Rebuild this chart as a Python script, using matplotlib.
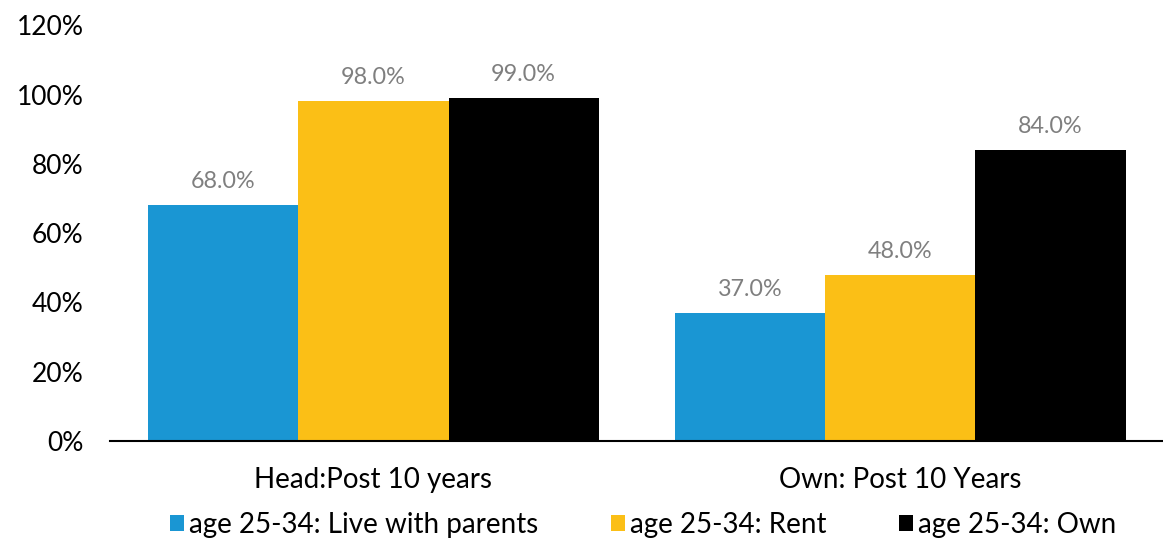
import matplotlib
matplotlib.use("Agg")
import matplotlib.pyplot as plt
import numpy as np

# Daten
categories = ["Head:Post 10 years", "Own: Post 10 Years"]
series_names = ["age 25-34: Live with parents", "age 25-34: Rent", "age 25-34: Own"]
live_with_parents = [68.0, 37.0]
rent = [98.0, 48.0]
own = [99.0, 84.0]
colors = ["#1A96D3", "#FBBF16", "#000000"]

plt.rcParams["font.family"] = ["Lato", "DejaVu Sans"]

fig = plt.figure(figsize=(11.63, 5.4), dpi=100)
ax = fig.add_axes([0.0946, 0.1833, 0.906, 0.770])

x = np.arange(len(categories))
width = 0.285
all_series = [live_with_parents, rent, own]

for i, (vals, name, col) in enumerate(zip(all_series, series_names, colors)):
    bars = ax.bar(x + (i - 1) * width, vals, width, color=col, label=name)
    for b, v in zip(bars, vals):
        ax.text(b.get_x() + b.get_width() / 2, v + 3.8, f"{v:.1f}%",
                ha="center", va="bottom", fontsize=16.8, color="#7F7F7F")

ax.set_xlim(-0.5, 1.5)
ax.set_ylim(0, 120)
ax.set_yticks(range(0, 121, 20))
ax.set_yticklabels([f"{t}%" for t in range(0, 121, 20)], fontsize=19)
ax.set_xticks(x)
ax.set_xticklabels(categories, fontsize=20)
ax.tick_params(axis="both", length=0)
ax.tick_params(axis="x", pad=19)
ax.tick_params(axis="y", pad=19)

for s in ["top", "right", "left"]:
    ax.spines[s].set_visible(False)
ax.spines["bottom"].set_linewidth(1.5)

fig.legend(loc="lower center", bbox_to_anchor=(0.553, -0.043), ncol=3,
           frameon=False, fontsize=20, handlelength=0.5, handleheight=0.5,
           handletextpad=0.2, columnspacing=2.6)

plt.savefig("out.png", dpi=100)
plt.close()
